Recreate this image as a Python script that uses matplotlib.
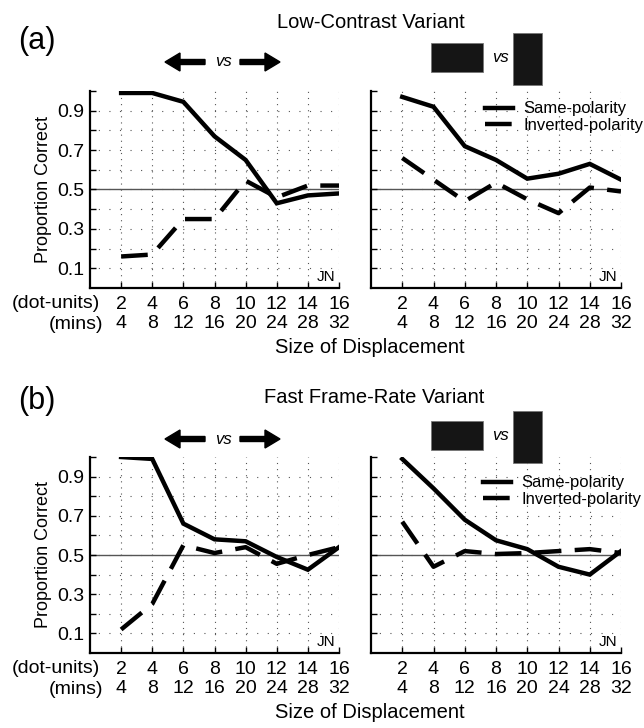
import matplotlib
matplotlib.use("Agg")
import matplotlib.pyplot as plt
from matplotlib.patches import Rectangle, FancyArrow
import numpy as np

plt.rcParams['font.family'] = ['Liberation Sans', 'DejaVu Sans']

x_dot = [2, 4, 6, 8, 10, 12, 14, 16]
x_mins = [4, 8, 12, 16, 20, 24, 28, 32]

a_left_same = [0.99, 0.99, 0.945, 0.77, 0.65, 0.43, 0.47, 0.48]
a_left_inv = [0.16, 0.17, 0.35, 0.35, 0.545, 0.46, 0.52, 0.52]
a_right_same = [0.97, 0.92, 0.72, 0.65, 0.555, 0.58, 0.63, 0.55]
a_right_inv = [0.66, 0.55, 0.44, 0.535, 0.45, 0.38, 0.51, 0.49]

b_left_same = [1.0, 0.99, 0.66, 0.58, 0.57, 0.49, 0.425, 0.54]
b_left_inv = [0.12, 0.25, 0.55, 0.51, 0.54, 0.455, 0.50, 0.54]
b_right_same = [0.99, 0.84, 0.68, 0.575, 0.53, 0.44, 0.40, 0.52]
b_right_inv = [0.67, 0.44, 0.52, 0.505, 0.51, 0.52, 0.53, 0.51]

titles = ["Low-Contrast Variant", "Fast Frame-Rate Variant"]
panel_labels = ["(a)", "(b)"]
legend_labels = ["Same-polarity", "Inverted-polarity"]
y_ticks = [0.1, 0.3, 0.5, 0.7, 0.9]

W, H = 644, 728
fig = plt.figure(figsize=(W / 100, H / 100), dpi=100)

def fx(px):
    return px / W

def fy(py):
    return 1 - py / H

LW = 3.2
DASH = (0, (6, 3))
TICK_FS = 14

def setup_axes(ax, left):
    ax.set_xlim(0, 16)
    ax.set_ylim(0, 1)
    for s in ['top', 'right']:
        ax.spines[s].set_visible(False)
    for s in ['left', 'bottom']:
        ax.spines[s].set_linewidth(1.6)
    ax.set_xticks(x_dot)
    ax.set_xticklabels([f"{a}\n{b}" for a, b in zip(x_dot, x_mins)],
                       fontsize=TICK_FS, linespacing=1.12)
    ax.set_yticks(y_ticks)
    ax.set_yticks([0.2, 0.4, 0.6, 0.8, 1.0], minor=True)
    if left:
        ax.set_yticklabels([f"{v:.1f}" for v in y_ticks], fontsize=TICK_FS)
        ax.set_ylabel("Proportion Correct", fontsize=13, labelpad=4)
    else:
        ax.set_yticklabels([])
    ax.tick_params(axis='x', which='major', direction='in', length=4, width=1, pad=6)
    ax.tick_params(axis='y', which='major', direction='in', length=4, width=1, pad=4)
    ax.tick_params(axis='y', which='minor', direction='in', length=4, width=1)
    for xv in x_dot:
        ax.axvline(xv, color='#555555', lw=0.8, ls=(0, (1, 4.5)), zorder=0)
    for yv in np.arange(0.1, 1.0, 0.1):
        ax.axhline(yv, color='#555555', lw=0.8, ls=(2, (1, 8.5)), zorder=0)
    ax.axhline(0.5, color='#555555', lw=1.0, zorder=1)
    ax.text(15.75, 0.02, "JN", fontsize=11, ha='right', va='bottom')

def draw_arrows(y_px):
    kw = dict(width=5 / H, head_width=18 / H, head_length=15 / W,
              length_includes_head=True, color='black',
              transform=fig.transFigure, figure=fig)
    fig.patches.append(FancyArrow(fx(205), fy(y_px), fx(165) - fx(205), 0, **kw))
    fig.patches.append(FancyArrow(fx(240), fy(y_px), fx(280) - fx(240), 0, **kw))
    fig.text(fx(223), fy(y_px), "vs", fontsize=12, style='italic', ha='center', va='center')

def draw_rects(y_mid):
    fig.patches.append(Rectangle((fx(431), fy(y_mid + 14)), fx(483) - fx(431), 29 / H,
                                 transform=fig.transFigure, facecolor='#151515',
                                 edgecolor='#777777', lw=0.6, figure=fig))
    fig.patches.append(Rectangle((fx(513), fy(y_mid + 27)), fx(542) - fx(513), 52 / H,
                                 transform=fig.transFigure, facecolor='#151515',
                                 edgecolor='#777777', lw=0.6, figure=fig))
    fig.text(fx(500), fy(y_mid), "vs", fontsize=12, style='italic', ha='center', va='center')

rows = [
    dict(top=91, bot=288, data=[(a_left_same, a_left_inv), (a_right_same, a_right_inv)],
         title_y=23, label_y=41, arrow_y=62, rect_y=58, xlabel_y=347, leg=(0.456, 0.947),
         title_x=371),
    dict(top=457, bot=653, data=[(b_left_same, b_left_inv), (b_right_same, b_right_inv)],
         title_y=398, label_y=401, arrow_y=439, rect_y=436, xlabel_y=712, leg=(0.448, 0.906),
         title_x=374),
]

for r, row in enumerate(rows):
    bottom = 1 - row['bot'] / H
    height = (row['bot'] - row['top']) / H
    for c, (left_px, right_px) in enumerate([(90, 339), (371, 621)]):
        ax = fig.add_axes([fx(left_px), bottom, (right_px - left_px) / W, height])
        same, inv = row['data'][c]
        ax.plot(x_dot, same, color='black', lw=LW, solid_joinstyle='miter',
                label=legend_labels[0], zorder=3)
        ax.plot(x_dot, inv, color='black', lw=LW, ls=DASH, dash_capstyle='butt',
                label=legend_labels[1], zorder=3)
        setup_axes(ax, c == 0)
        if c == 1:
            ax.legend(loc='upper left', bbox_to_anchor=row['leg'], frameon=False,
                      fontsize=12, handlelength=1.7, handletextpad=0.6,
                      labelspacing=0.1, borderaxespad=0, borderpad=0)
        if c == 0:
            ax.text(0.042, -0.078, "(dot-units)", transform=ax.transAxes,
                    fontsize=TICK_FS, ha='right', va='center')
            ax.text(0.052, -0.186, "(mins)", transform=ax.transAxes,
                    fontsize=TICK_FS, ha='right', va='center')
    fig.text(fx(row['title_x']), fy(row['title_y']), titles[r], fontsize=14.5,
             ha='center', va='center')
    fig.text(fx(18), fy(row['label_y']), panel_labels[r], fontsize=22, ha='left', va='center')
    fig.text(fx(370), fy(row['xlabel_y']), "Size of Displacement", fontsize=14.5,
             ha='center', va='center')
    draw_arrows(row['arrow_y'])
    draw_rects(row['rect_y'])

fig.savefig("out.png", dpi=100)
